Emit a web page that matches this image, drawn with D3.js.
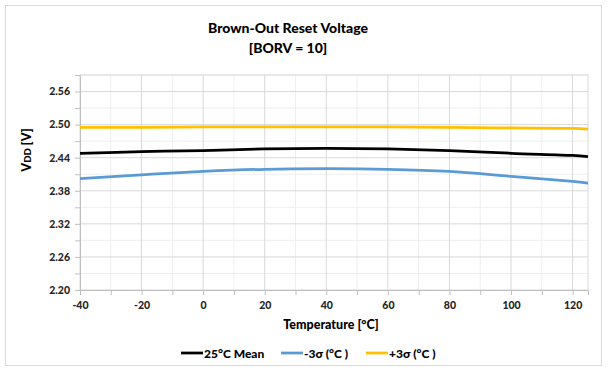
<!DOCTYPE html>
<html>
<head>
<meta charset="utf-8">
<script src="https://cdn.jsdelivr.net/npm/d3@7"></script>
<style>
  body { margin: 0; background: #fff; }
  text { font-family: Lato, "Open Sans", sans-serif; font-weight: 900; }
</style>
</head>
<body>
<div id="chart"></div>
<script>
// temperatures (°C) and readings (V)
const temps = [-40, -20, 0, 20, 40, 60, 80, 100, 120, 125]
const meanVals = [2.448, 2.451, 2.453, 2.456, 2.457, 2.456, 2.453, 2.448, 2.444, 2.442]
const minusVals = [2.402, 2.409, 2.415, 2.419, 2.420, 2.419, 2.415, 2.406, 2.397, 2.394]
const plusVals = [2.495, 2.495, 2.496, 2.496, 2.496, 2.496, 2.495, 2.494, 2.493, 2.492]
const xTicks = [-40, -20, 0, 20, 40, 60, 80, 100, 120]
const yTicks = [2.20, 2.26, 2.32, 2.38, 2.44, 2.50, 2.56]
const seriesNames = ['25°C Mean', '-3σ (°C )', '+3σ (°C )']
const seriesColors = ['#000000', '#5b9bd5', '#ffc000']

const width = 608
const height = 371
const margin = { top: 75, right: 20, bottom: 81, left: 80 }

let svg = d3.select('#chart').append('svg')
  .attr('width', width)
  .attr('height', height)

// outer frame
svg.append('rect')
  .attr('x', 5.5).attr('y', 5.5)
  .attr('width', 596).attr('height', 360)
  .attr('fill', 'none')
  .attr('stroke', '#d9d9d9')

let x = d3.scaleLinear().domain([-40, 125]).range([margin.left, width - margin.right])
let y = d3.scaleLinear().domain([2.20, 2.59]).range([height - margin.bottom, margin.top])

let g = svg.append('g')

// minor grid
g.append('g')
  .selectAll('line')
  .data(d3.range(-30, 125, 20))
  .enter().append('line')
  .attr('x1', (d) => x(d)).attr('x2', (d) => x(d))
  .attr('y1', y.range()[0]).attr('y2', y.range()[1])
  .attr('stroke', '#efefef')
g.append('g')
  .selectAll('line')
  .data(d3.range(2.23, 2.6, 0.06))
  .enter().append('line')
  .attr('x1', x.range()[0]).attr('x2', x.range()[1])
  .attr('y1', (d) => y(d)).attr('y2', (d) => y(d))
  .attr('stroke', '#efefef')

// major grid
g.append('g')
  .selectAll('line')
  .data(xTicks.slice(1))
  .enter().append('line')
  .attr('x1', (d) => x(d)).attr('x2', (d) => x(d))
  .attr('y1', y.range()[0]).attr('y2', y.range()[1])
  .attr('stroke', '#d9d9d9')
g.append('g')
  .selectAll('line')
  .data(yTicks.slice(1))
  .enter().append('line')
  .attr('x1', x.range()[0]).attr('x2', x.range()[1])
  .attr('y1', (d) => y(d)).attr('y2', (d) => y(d))
  .attr('stroke', '#d9d9d9')

// plot border
g.append('rect')
  .attr('x', x.range()[0]).attr('y', y.range()[1])
  .attr('width', x.range()[1] - x.range()[0])
  .attr('height', y.range()[0] - y.range()[1])
  .attr('fill', 'none')
  .attr('stroke', '#d9d9d9')

// axes
let xAxis = g.append('g')
  .attr('transform', `translate(0,${y.range()[0]})`)
  .call(d3.axisBottom(x).tickValues(d3.range(-40, 126, 10)).tickSize(5).tickFormat((d) => (d % 20 === 0 ? d : '')))
xAxis.select('.domain').attr('stroke', '#bfbfbf')
xAxis.selectAll('.tick line').attr('stroke', '#bfbfbf')
xAxis.selectAll('.tick text')
  .attr('dy', 0).attr('y', 19)
  .attr('fill', '#262626')
  .style('font-size', '10.5px')

let yAxis = g.append('g')
  .attr('transform', `translate(${x.range()[0]},0)`)
  .call(d3.axisLeft(y).tickValues(d3.range(2.20, 2.6, 0.03)).tickSize(5)
    .tickFormat((d, i) => (i % 2 === 0 ? d3.format('.2f')(d) : '')))
yAxis.select('.domain').attr('stroke', '#bfbfbf')
yAxis.selectAll('.tick line').attr('stroke', '#bfbfbf')
yAxis.selectAll('.tick text')
  .attr('x', -10)
  .attr('fill', '#262626')
  .style('font-size', '10.5px')

// series
let line = d3.line()
  .x((d) => x(d[0]))
  .y((d) => y(d[1]))
  .curve(d3.curveCatmullRom.alpha(0.5))

let series = [meanVals, minusVals, plusVals]
g.append('g')
  .selectAll('path')
  .data(series)
  .enter().append('path')
  .attr('d', (vals) => line(temps.map((t, i) => [t, vals[i]])))
  .attr('fill', 'none')
  .attr('stroke', (d, i) => seriesColors[i])
  .attr('stroke-width', 2.75)

// titles
svg.append('text')
  .attr('x', 288).attr('y', 33)
  .attr('text-anchor', 'middle')
  .style('font-size', '14px')
  .attr('fill', '#000')
  .text('Brown-Out Reset Voltage')
svg.append('text')
  .attr('x', 288).attr('y', 53)
  .attr('text-anchor', 'middle')
  .style('font-size', '14px')
  .attr('fill', '#000')
  .text('[BORV = 10]')

svg.append('text')
  .attr('x', 331).attr('y', 329)
  .attr('text-anchor', 'middle')
  .style('font-size', '12.5px')
  .attr('fill', '#000')
  .text('Temperature [°C]')

let yTitle = svg.append('text')
  .attr('transform', 'translate(31,150) rotate(-90)')
  .attr('text-anchor', 'middle')
  .style('font-size', '12.5px')
  .attr('fill', '#000')
yTitle.append('tspan').text('V')
yTitle.append('tspan').style('font-size', '9.5px').text('DD')
yTitle.append('tspan').text(' [V]')

// legend
let legendX = [181, 281, 366]
let legend = svg.append('g')
  .selectAll('g')
  .data(seriesNames)
  .enter().append('g')
  .attr('transform', (d, i) => `translate(${legendX[i]},353)`)
legend.append('line')
  .attr('x1', 0).attr('x2', 22)
  .attr('stroke', (d, i) => seriesColors[i])
  .attr('stroke-width', 2.75)
legend.append('text')
  .attr('x', 23).attr('y', 4.5)
  .style('font-size', '12px')
  .attr('fill', '#000')
  .text((d) => d)
</script>
</body>
</html>
